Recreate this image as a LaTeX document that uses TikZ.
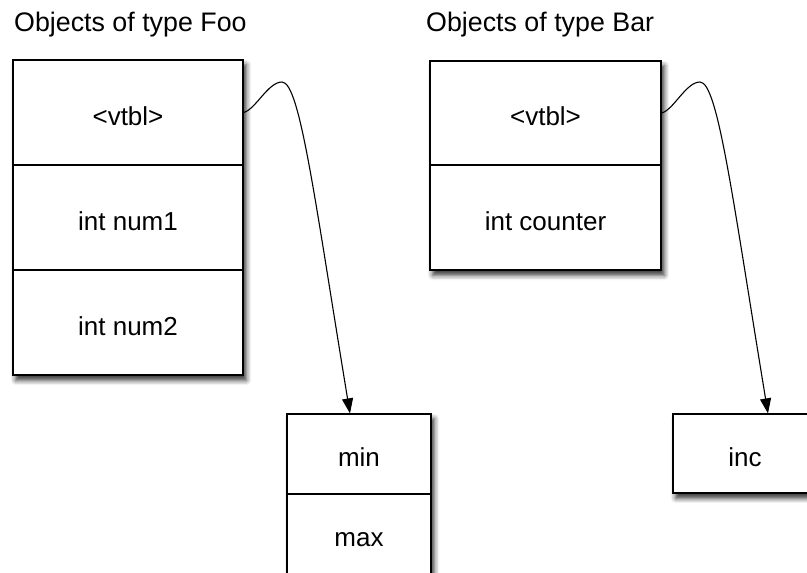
\documentclass[tikz,border=0pt]{standalone}
\usepackage{fontspec}
\setmainfont{Liberation Sans}
\usetikzlibrary{shadows.blur,fit,backgrounds,arrows.meta}
\begin{document}
\begin{tikzpicture}[x=1pt,y=-1pt,
  cell/.style={draw=black, line width=1.2pt, fill=white, inner sep=0pt,
    font=\fontsize{26}{30}\selectfont, text height=25pt, text depth=0pt},
  title/.style={anchor=base west, inner sep=0pt, font=\fontsize{26.8}{30}\selectfont},
  shadowbox/.style={fill=white, inner sep=0pt, blur shadow={shadow xshift=3pt, shadow yshift=-5pt, shadow blur radius=4.5pt, shadow opacity=75}},
  ptr/.style={line width=1.1pt, -{Triangle[length=15pt,width=11pt]}}
]
\useasboundingbox (0,0) rectangle (807,573);
\clip (0,0) rectangle (807,573);

\node[title] (tfoo) at (14,31) {Objects of type Foo};
\node[title] (tbar) at (426,31) {Objects of type Bar};

% Foo object
\node[cell, minimum width=230pt, minimum height=105pt] (foo1) at (128,112.5) {<vtbl>};
\node[cell, minimum width=230pt, minimum height=105pt] (foo2) at (128,217.5) {int num1};
\node[cell, minimum width=230pt, minimum height=105pt] (foo3) at (128,322.5) {int num2};

% Bar object
\node[cell, minimum width=231pt, minimum height=104pt] (bar1) at (545.5,113) {<vtbl>};
\node[cell, minimum width=231pt, minimum height=105pt] (bar2) at (545.5,217.5) {int counter};

% Foo vtable
\node[cell, minimum width=144pt, minimum height=80pt] (vmin) at (359,454) {min};
\node[cell, minimum width=144pt, minimum height=80pt] (vmax) at (359,534) {max};

% Bar vtable
\node[cell, minimum width=144pt, minimum height=79pt] (vinc) at (745,453.5) {inc};

\begin{pgfonlayer}{background}
  \node[shadowbox, fit=(foo1)(foo3)] (fooall) {};
  \node[shadowbox, fit=(bar1)(bar2)] (barall) {};
  \node[shadowbox, fit=(vmin)(vmax)] (vfooall) {};
  \node[shadowbox, fit=(vinc)] (vbarall) {};
\end{pgfonlayer}

\coordinate (fpeak) at (282,82);
\coordinate (bpeak) at (700,82);

\draw[ptr] (foo1.east) .. controls +(12,-3) and +(-14,0) .. (fpeak)
  .. controls +(18,0) and +(-35,-212) .. ([xshift=-9pt]vmin.north);
\draw[ptr] (bar1.east) .. controls +(12,-3) and +(-14,0) .. (bpeak)
  .. controls +(18,0) and +(-35,-212) .. ([xshift=23pt]vinc.north);
\end{tikzpicture}
\end{document}
